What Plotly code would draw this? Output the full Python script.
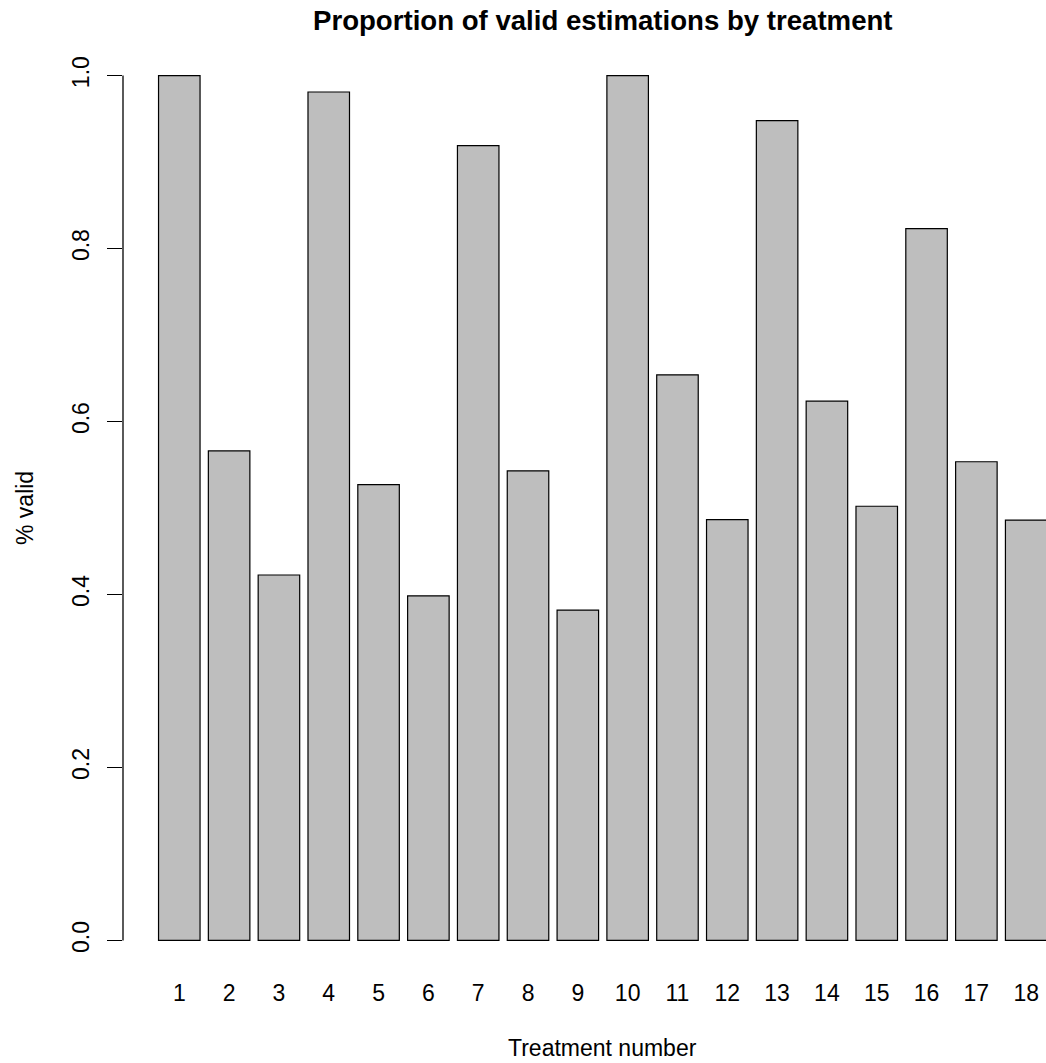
import plotly.graph_objects as go

# Proportion of valid estimations for each treatment
treatments = [str(i) for i in range(1, 19)]
prop_valid = [1.0, 0.566, 0.4225, 0.981, 0.527, 0.3985, 0.919, 0.543, 0.382,
              1.0, 0.654, 0.4865, 0.948, 0.6235, 0.502, 0.823, 0.5535, 0.486]
y_ticks = [0.0, 0.2, 0.4, 0.6, 0.8, 1.0]
y_tick_text = ["0.0", "0.2", "0.4", "0.6", "0.8", "1.0"]

# barplot-style layout: bars of width 1 separated by 0.2
bar_width = 1.0
gap = 0.2
n = len(treatments)
centers = [gap + bar_width / 2 + i * (bar_width + gap) for i in range(n)]
span = n * (bar_width + gap) - gap
x_lo = gap - 0.04 * span
x_mid = (x_lo + n * (bar_width + gap) + 0.04 * span) / 2

W, H = 1046, 1063
ML, MR, MT, MB = 123, 0, 41, 88
px_per_unit = 41.44
x_hi = x_lo + (W - ML - MR) / px_per_unit - 0.04
plot_h = H - MT - MB

FONT = "Liberation Sans, Arial, Helvetica, sans-serif"


def py(p):
    """pixel row -> paper y"""
    return (H - MB - p) / plot_h


fig = go.Figure(
    go.Bar(
        x=centers,
        y=prop_valid,
        width=bar_width,
        marker=dict(color="#BEBEBE", line=dict(color="black", width=1.2)),
        hoverinfo="skip",
    )
)

fig.update_layout(
    width=W,
    height=H,
    margin=dict(l=ML, r=MR, t=MT, b=MB, pad=0),
    paper_bgcolor="white",
    plot_bgcolor="white",
    showlegend=False,
    font=dict(family=FONT, size=23, color="black"),
    xaxis=dict(
        range=[x_lo, x_hi],
        tickmode="array",
        tickvals=centers,
        ticktext=treatments,
        ticks="",
        showline=False,
        showgrid=False,
        zeroline=False,
        tickfont=dict(family=FONT, size=23, color="black"),
        ticklabelstandoff=2,
    ),
    yaxis=dict(
        range=[-0.04, 1.04],
        tickmode="array",
        tickvals=y_ticks,
        ticktext=y_tick_text,
        ticks="outside",
        ticklen=15,
        tickwidth=1.3,
        tickcolor="black",
        tickangle=-90,
        showline=False,
        showgrid=False,
        zeroline=False,
        tickfont=dict(family=FONT, size=23, color="black"),
        ticklabelstandoff=9,
    ),
    shapes=[
        dict(type="line", xref="paper", x0=0, x1=0, yref="y", y0=0, y1=1,
             line=dict(color="black", width=1.3))
    ],
    annotations=[
        dict(text="<b>Proportion of valid estimations by treatment</b>",
             xref="x", x=x_mid, yref="paper", y=py(20), yanchor="middle",
             xanchor="center", showarrow=False,
             font=dict(family=FONT, size=27.6, color="black")),
        dict(text="Treatment number",
             xref="x", x=x_mid, yref="paper", y=py(1048), yanchor="middle",
             xanchor="center", showarrow=False,
             font=dict(family=FONT, size=23, color="black")),
        dict(text="% valid", textangle=-90,
             xref="paper", x=(25 - ML) / (W - ML - MR), xanchor="center",
             yref="paper", y=py(508), yanchor="middle",
             showarrow=False,
             font=dict(family=FONT, size=23, color="black")),
    ],
)

fig.write_html("out.html")
